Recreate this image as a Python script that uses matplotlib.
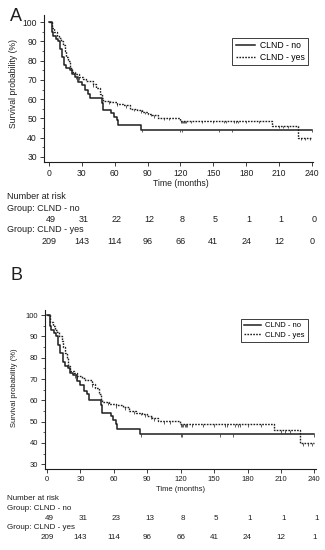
import numpy as np
import matplotlib
matplotlib.use("Agg")
import matplotlib.pyplot as plt
import matplotlib.transforms as mtransforms
from matplotlib.lines import Line2D

plt.rcParams["font.family"] = ["Liberation Sans", "DejaVu Sans"]

# Kaplan-Meier steps (months, survival %)
no_times = [0, 2.4, 4, 6, 8, 10, 12, 14, 16, 19, 21, 23.7, 26.7, 29.8, 32.8, 35.9, 37.5,
            48, 49.5, 57, 59.6, 61.7, 63.2, 83.6]
no_surv = [100, 95, 93, 91.5, 90, 86, 82, 78, 76, 75, 73, 71.7, 69, 67.2, 64.6, 62.9, 60.4,
           57.8, 54.3, 52.6, 50.8, 49, 46.6, 44.1]
no_end = 240
no_censor = [25, 84.5, 120, 121.5, 155, 167, 240]

yes_times = [0, 3, 5, 7, 9, 11, 13, 14.5, 16, 17.6, 19, 21, 24, 27, 31, 34, 40, 43, 46.5,
             48, 49.5, 55.6, 61.7, 67.8, 73.9, 80, 85, 90, 94, 99.5, 119.5, 204, 227]
yes_surv = [100, 97, 95, 93, 92, 90, 88, 85, 82, 80, 76, 74, 73, 71.5, 70.5, 69.5, 67.8, 66,
            62.9, 60.4, 59, 58.5, 57.7, 56.8, 55.1, 54.3, 53.4, 52.5, 51.5, 50.2, 48.7, 46.2, 39.8]
yes_end = 240
yes_censor = [27, 40, 55, 62, 70, 78, 84, 88, 93, 96, 105, 110, 120.5, 121.5, 122.5, 123.5,
              124.5, 125.5, 130, 140, 150, 160, 162, 169, 171, 173, 180, 192, 210, 214, 218,
              230, 234, 238]

risk_times = [0, 30, 60, 90, 120, 150, 180, 210, 240]
risk_no_a = [49, 31, 22, 12, 8, 5, 1, 1, 0]
risk_yes_a = [209, 143, 114, 96, 66, 41, 24, 12, 0]
risk_no_b = [49, 31, 23, 13, 8, 5, 1, 1, 1]
risk_yes_b = [209, 143, 114, 96, 66, 41, 24, 12, 1]

INK = "#1e1e1e"
DOTS = (0, (1.2, 0.9))
W, H = 325, 550


def fy(y):
    return 1 - y / H


def draw_curve(ax, times, surv, end, censor, ls, lw):
    t = list(times) + [end]
    s = list(surv) + [surv[-1]]
    ax.step(t, s, where="post", color=INK, lw=lw, linestyle=ls)
    idx = np.searchsorted(times, censor, side="right") - 1
    cs = np.array(surv)[idx]
    ax.vlines(censor, cs - 1.3, cs, color=INK, lw=0.5)


def panel(rect, xlim, ylim, fs, letter, letter_y, ylab_y, leg_box, rows_y, risk_no, risk_yes):
    fig = plt.gcf()
    ax = fig.add_axes(rect)
    draw_curve(ax, no_times, no_surv, no_end, no_censor, "-", 1.1)
    draw_curve(ax, yes_times, yes_surv, yes_end, yes_censor, DOTS, 1.0)
    ax.set_xlim(*xlim)
    ax.set_ylim(*ylim)
    ax.set_xticks(risk_times)
    ax.set_yticks(range(30, 101, 10))
    ax.set_yticks(range(35, 100, 10), minor=True)
    for side in ("top", "right"):
        ax.spines[side].set_visible(False)
    for side in ("left", "bottom"):
        ax.spines[side].set_linewidth(0.8)
        ax.spines[side].set_color(INK)
    ax.tick_params(which="major", length=3, width=0.6, labelsize=fs, colors=INK, pad=2)
    ax.tick_params(which="minor", length=1.5, width=0.5, colors=INK)

    fig.text(10 / W, fy(letter_y), letter, fontsize=13, color=INK, va="baseline")
    fig.text(14 / W, fy(ylab_y), "Survival probability (%)", rotation=90, fontsize=fs,
             color=INK, ha="center", va="center")

    handles = [Line2D([], [], color=INK, lw=1.1, ls="-"),
               Line2D([], [], color=INK, lw=1.0, ls=DOTS)]
    leg = ax.legend(handles, ["CLND - no", "CLND - yes"], loc="upper right",
                    bbox_to_anchor=(leg_box[0] / W, fy(leg_box[1])),
                    bbox_transform=fig.transFigure, fontsize=fs, frameon=True,
                    fancybox=False, edgecolor=INK, framealpha=1, borderpad=0.4,
                    handlelength=2.2, handletextpad=0.6, labelspacing=0.25,
                    borderaxespad=0)
    leg.get_frame().set_linewidth(0.6)

    trans = mtransforms.blended_transform_factory(ax.transData, fig.transFigure)
    fig.text(181 / W, fy(rows_y[0]), "Time (months)", fontsize=fs, color=INK,
             ha="center", va="center")
    fig.text(7 / W, fy(rows_y[1]), "Number at risk", fontsize=fs + 0.3, color=INK, va="center")
    fig.text(7 / W, fy(rows_y[2]), "Group: CLND - no", fontsize=fs + 0.3, color=INK, va="center")
    fig.text(7 / W, fy(rows_y[4]), "Group: CLND - yes", fontsize=fs + 0.3, color=INK, va="center")
    for t, n in zip(risk_times, risk_no):
        ax.text(t + 2, fy(rows_y[3]), str(n), transform=trans, fontsize=fs + 0.3,
                color=INK, ha="center", va="center")
    for t, n in zip(risk_times, risk_yes):
        ax.text(t, fy(rows_y[5]), str(n), transform=trans, fontsize=fs + 0.3,
                color=INK, ha="center", va="center")
    return ax


fig = plt.figure(figsize=(W / 100, H / 100), dpi=100)

panel([44 / W, fy(161.7), (313 - 44) / W, (161.7 - 15) / H], (-4.5, 241), (27.4, 103.8),
      6.2, "A", 21, 83, (308, 38), [183.3, 196.7, 208.3, 219.3, 230, 241.7],
      risk_no_a, risk_yes_a)

panel([44.7 / W, fy(469.3), (315.5 - 44.7) / W, (469.3 - 310) / H], (-2.1, 241), (27.65, 102.4),
      5.5, "B", 280, 388, (308, 319), [489.3, 498.7, 508.3, 518, 527.3, 537.3],
      risk_no_b, risk_yes_b)

fig.savefig("out.png", dpi=100, facecolor="white")
